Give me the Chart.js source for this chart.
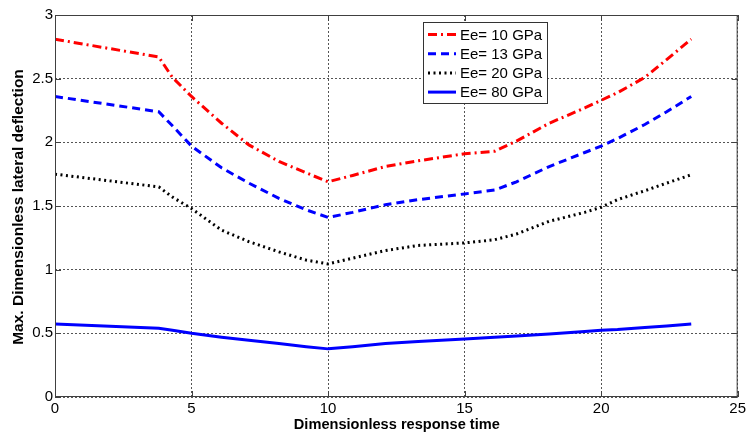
<!DOCTYPE html>
<html>
<head>
<meta charset="utf-8">
<script src="https://cdn.jsdelivr.net/npm/chart.js@4"></script>
<style>
  html, body { margin: 0; padding: 0; background: #fff; }
  #wrap { width: 749px; height: 437px; }
</style>
</head>
<body>
<div id="wrap"><canvas id="chart" width="749" height="437"></canvas></div>
<script>
// response time samples (shared by all curves)
const times = [0, 3.8, 4.3, 5, 6.1, 7.1, 8.2, 9.2, 10, 10.9, 12.1, 13.3, 15, 16.1, 16.9, 18.1, 19.4, 20, 20.6, 21.6, 22.4, 23.3];

const ee10 = [2.81, 2.67, 2.51, 2.36, 2.15, 1.98, 1.85, 1.76, 1.69, 1.74, 1.81, 1.855, 1.91, 1.93, 2.01, 2.15, 2.27, 2.33, 2.39, 2.51, 2.65, 2.81];
const ee13 = [2.36, 2.24, 2.13, 1.97, 1.80, 1.68, 1.56, 1.47, 1.41, 1.45, 1.51, 1.55, 1.595, 1.625, 1.69, 1.81, 1.92, 1.97, 2.03, 2.14, 2.24, 2.36];
const ee20 = [1.75, 1.65, 1.57, 1.48, 1.31, 1.22, 1.14, 1.075, 1.045, 1.09, 1.15, 1.19, 1.21, 1.235, 1.28, 1.38, 1.45, 1.49, 1.55, 1.62, 1.68, 1.745];
const ee80 = [0.573, 0.54, 0.525, 0.50, 0.47, 0.445, 0.42, 0.395, 0.378, 0.395, 0.42, 0.435, 0.455, 0.47, 0.48, 0.495, 0.515, 0.525, 0.53, 0.545, 0.558, 0.573];

const seriesLabels = ["Ee= 10 GPa", "Ee= 13 GPa", "Ee= 20 GPa", "Ee= 80 GPa"];
const xTicks = [0, 5, 10, 15, 20, 25];
const yTicks = [0, 0.5, 1, 1.5, 2, 2.5, 3];

const FONT = "'Liberation Sans', Arial, Helvetica, sans-serif";

function pts(vals) {
    return times.map((t, i) => ({ x: t, y: vals[i] }));
}

const styles = [
    { color: "#ff0000", dash: [9, 4, 2, 4] },
    { color: "#0000ff", dash: [8, 5] },
    { color: "#000000", dash: [2, 3.5] },
    { color: "#0000ff", dash: [] }
];

const datasets = [ee10, ee13, ee20, ee80].map((vals, i) => ({
    label: seriesLabels[i],
    data: pts(vals),
    borderColor: styles[i].color,
    borderDash: styles[i].dash,
    borderWidth: 3,
    pointRadius: 0,
    tension: 0,
    fill: false
}));

// matlab style frame, inward ticks, axis titles and legend box
const matlabFrame = {
    id: "matlabFrame",
    afterDraw(chart) {
        const ctx = chart.ctx;
        const a = chart.chartArea;
        const xs = chart.scales.x, ys = chart.scales.y;
        ctx.save();
        ctx.strokeStyle = "#404040";
        ctx.lineWidth = 1;
        ctx.setLineDash([]);
        ctx.strokeRect(a.left + 0.5, a.top + 0.5, a.right - a.left - 1, a.bottom - a.top - 1);

        ctx.beginPath();
        xTicks.forEach(v => {
            const px = Math.round(xs.getPixelForValue(v)) + 0.5;
            ctx.moveTo(px, a.bottom); ctx.lineTo(px, a.bottom - 6);
            ctx.moveTo(px, a.top); ctx.lineTo(px, a.top + 6);
        });
        yTicks.forEach(v => {
            const py = Math.round(ys.getPixelForValue(v)) + 0.5;
            ctx.moveTo(a.left, py); ctx.lineTo(a.left + 6, py);
            ctx.moveTo(a.right, py); ctx.lineTo(a.right - 6, py);
        });
        ctx.stroke();

        // axis titles
        ctx.fillStyle = "#000";
        ctx.textAlign = "center";
        ctx.textBaseline = "middle";
        ctx.font = "bold 14.6px " + FONT;
        ctx.fillText("Dimensionless response time", (a.left + a.right) / 2 + 0.5, 425);
        ctx.save();
        ctx.translate(19, 207);
        ctx.rotate(-Math.PI / 2);
        ctx.font = "bold 15.5px " + FONT;
        ctx.fillText("Max. Dimensionless lateral deflection", 0, 0);
        ctx.restore();

        // legend
        const lx = 423, ly = 22, lw = 124, lh = 81;
        ctx.fillStyle = "#fff";
        ctx.fillRect(lx, ly, lw, lh);
        ctx.strokeStyle = "#333";
        ctx.strokeRect(lx + 0.5, ly + 0.5, lw, lh);
        ctx.font = "15px " + FONT;
        ctx.textAlign = "left";
        chart.data.datasets.forEach((ds, i) => {
            const y = 34.5 + i * 19.2;
            ctx.strokeStyle = ds.borderColor;
            ctx.lineWidth = 3;
            ctx.setLineDash(ds.borderDash);
            ctx.beginPath();
            ctx.moveTo(428, y);
            ctx.lineTo(456, y);
            ctx.stroke();
            ctx.setLineDash([]);
            ctx.fillStyle = "#000";
            ctx.fillText(ds.label, 460, y + 1);
        });
        ctx.restore();
    }
};

const gridCfg = { color: "#555", lineWidth: 1, drawTicks: false };

new Chart(document.getElementById("chart").getContext("2d"), {
    type: "line",
    data: { datasets: datasets },
    options: {
        responsive: false,
        animation: false,
        layout: { padding: { left: 0, top: 15, right: 8, bottom: 0 } },
        plugins: { legend: { display: false }, tooltip: { enabled: false } },
        scales: {
            x: {
                type: "linear",
                min: 0, max: 25,
                afterBuildTicks: s => { s.ticks = xTicks.map(v => ({ value: v })); },
                afterFit: s => { s.height = 40; },
                grid: gridCfg,
                border: { display: false, dash: [2, 2] },
                ticks: { color: "#000", padding: 3, font: { family: FONT, size: 15 }, callback: v => String(v) }
            },
            y: {
                type: "linear",
                min: 0, max: 3,
                afterBuildTicks: s => { s.ticks = yTicks.map(v => ({ value: v })); },
                afterFit: s => { s.width = 55; },
                grid: gridCfg,
                border: { display: false, dash: [2, 2] },
                ticks: { color: "#000", padding: 2, font: { family: FONT, size: 15 }, callback: v => String(v) }
            }
        }
    },
    plugins: [matlabFrame]
});
</script>
</body>
</html>
